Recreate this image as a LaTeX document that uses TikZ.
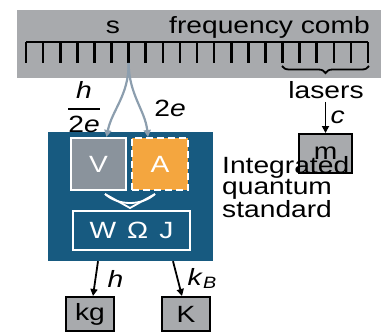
\documentclass[tikz,border=0pt]{standalone}
\usepackage{amsmath}
\usepackage{fontspec}
\setmainfont{Liberation Sans}[FakeStretch=1.2]
\usetikzlibrary{positioning,arrows.meta,decorations.pathreplacing}

\definecolor{combgray}{HTML}{A8AAAD}
\definecolor{qblue}{HTML}{175A80}
\definecolor{vgray}{HTML}{8A939C}
\definecolor{aorange}{HTML}{F4A63F}
\definecolor{linkgray}{HTML}{8C9EAE}

\tikzset{
  unitbox/.style={draw=black, line width=2pt, fill=combgray, inner sep=0pt},
  qbox/.style={draw=white, line width=2pt, inner sep=0pt, text=white},
  blk/.style={-{Triangle[length=7pt,width=7pt]}, line width=1.8pt},
  lnk/.style={-{Triangle[length=7pt,width=7pt]}, line width=2.2pt, linkgray}
}

\begin{document}
\begin{tikzpicture}[x=1pt, y=-1pt, font=\fontsize{23.5}{20}\selectfont]
  \useasboundingbox (0,0) rectangle (383,332);
  % comb band
  \fill[combgray] (17,10) rectangle (381,78);
  \node[anchor=base] (sec) at (113,33) {s};
  \node[anchor=base east, inner sep=0pt] (comb) at (370,33) {frequency comb};
  % the comb itself
  \draw[line width=2.6pt] (26,42) -- (368,42);
  \foreach \k in {0,...,20}
    \draw[line width=2.6pt] (26+17.1*\k,42) -- (26+17.1*\k,63) coordinate (t\k);
  \draw[decorate, decoration={brace, mirror, amplitude=7pt}, line width=1.8pt]
    (282,66) -- (369,66);
  \node[anchor=base] (lasers) at (326,98) {lasers};
  % mass
  \node[unitbox, minimum width=53pt, minimum height=39pt] (m) at (325.5,153.5) {m};
  \draw[blk] (lasers.south -| m.north) -- (m.north) node[midway, right=1pt] {\textit{c}};
  % integrated quantum standard
  \node[fill=qblue, minimum width=165pt, minimum height=129pt, inner sep=0pt] (iqs) at (130.5,196.5) {};
  \node[qbox, fill=vgray, minimum width=55pt, minimum height=52pt] (V) at (98.5,164) {V};
  \node[qbox, fill=aorange, dashed, dash pattern=on 7pt off 4pt, minimum width=56pt, minimum height=52pt] (A) at (160,164) {A};
  \node[qbox, minimum width=117pt, minimum height=39pt] (WOJ) at (131.5,230.5) {W\hspace{11pt}Ω\hspace{11pt}J};
  % merge head
  \coordinate (tip) at (130,208);
  \draw[white, line width=1.8pt, line join=round] (105,194) -- (tip) -- (155,194);
  \draw[white, line width=1.8pt] (105,194) .. controls (118,206) and (142,206) .. (155,194);
  \node[anchor=base west, align=left, inner sep=0pt] (label) at (222,217) {Integrated\\quantum\\standard};
  % from the comb to V and A
  \draw[lnk] (t6) .. controls (129,95) and (112,110) .. ([xshift=8pt]V.north);
  \draw[lnk] (t6) .. controls (129,95) and (145,110) .. ([xshift=-12pt]A.north);
  \node (hfrac) at (84,107) {$\genfrac{}{}{1.6pt}{0}{\mbox{\textit{h}}}{\mbox{2\textit{e}}}$};
  \node (twoe) at (170,108) {2\textit{e}};
  % kilogram and kelvin
  \node[unitbox, minimum width=48pt, minimum height=34pt] (kg) at (90,314) {kg};
  \node[unitbox, minimum width=48pt, minimum height=34pt] (K) at (186,314) {K};
  \draw[blk] ([xshift=-32.5pt]iqs.south) -- ([xshift=3pt]kg.north) node[midway, right=8pt] {\textit{h}};
  \draw[blk] ([xshift=42.5pt]iqs.south) -- ([xshift=-4pt]K.north) node[midway, right=6pt] {\textit{k}\textsubscript{\textit{B}}};
\end{tikzpicture}
\end{document}
